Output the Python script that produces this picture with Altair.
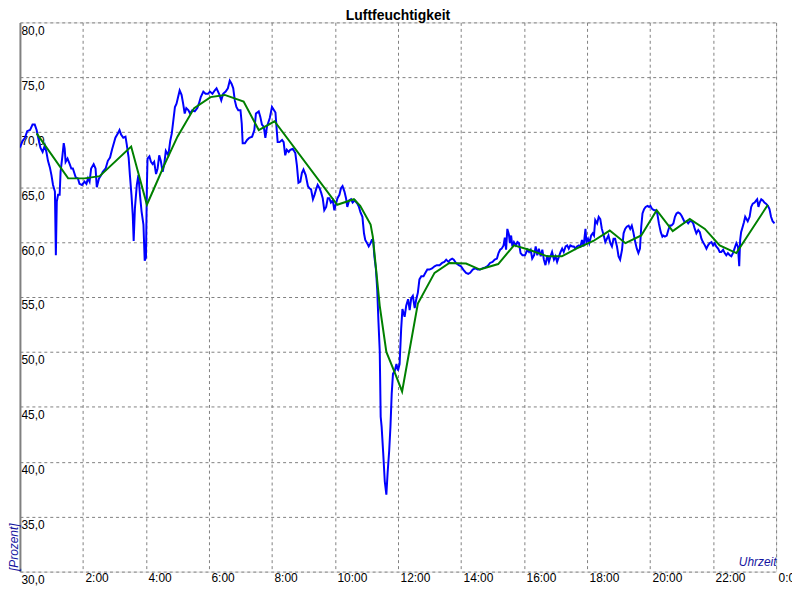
import altair as alt
import pandas as pd

# ---- measured humidity (blue) ----
blue_hours = [
    0.00, 0.08, 0.16, 0.23, 0.32, 0.40, 0.47, 0.53, 0.58, 0.65,
    0.72, 0.79, 0.84, 0.89, 0.95, 1.00, 1.05, 1.11, 1.14, 1.17,
    1.21, 1.26, 1.29, 1.35, 1.39, 1.42, 1.45, 1.51, 1.58, 1.63,
    1.68, 1.77, 1.84, 1.89, 1.97, 2.05, 2.11, 2.16, 2.21, 2.26,
    2.34, 2.40, 2.44, 2.51, 2.58, 2.63, 2.72, 2.79, 2.86, 2.93,
    2.98, 3.03, 3.11, 3.16, 3.21, 3.28, 3.35, 3.39, 3.45, 3.49,
    3.54, 3.58, 3.61, 3.65, 3.71, 3.76, 3.81, 3.86, 3.92, 3.96,
    4.00, 4.03, 4.05, 4.11, 4.16, 4.21, 4.26, 4.32, 4.37, 4.42,
    4.47, 4.53, 4.58, 4.63, 4.71, 4.77, 4.82, 4.87, 4.92, 4.97,
    5.02, 5.07, 5.13, 5.18, 5.23, 5.28, 5.35, 5.40, 5.47, 5.55,
    5.63, 5.68, 5.74, 5.82, 5.89, 5.97, 6.03, 6.11, 6.18, 6.24,
    6.32, 6.39, 6.45, 6.53, 6.60, 6.66, 6.72, 6.77, 6.82, 6.87,
    6.93, 7.00, 7.04, 7.07, 7.14, 7.21, 7.28, 7.37, 7.44, 7.49,
    7.58, 7.63, 7.68, 7.74, 7.79, 7.84, 7.93, 8.00,
    8.11, 8.14, 8.18, 8.24, 8.32, 8.37, 8.42, 8.47, 8.53, 8.58,
    8.66, 8.74, 8.79, 8.84, 8.90, 8.95, 9.00, 9.07, 9.14, 9.19,
    9.24, 9.30, 9.35, 9.40, 9.45, 9.51, 9.56, 9.61, 9.66, 9.72,
    9.77, 9.82, 9.87, 9.93, 9.98, 10.03, 10.08, 10.14, 10.19, 10.24,
    10.30, 10.35, 10.39, 10.45, 10.51, 10.56, 10.63, 10.71, 10.76, 10.81,
    10.87, 10.92, 10.96, 11.02, 11.07, 11.13, 11.17, 11.21, 11.25, 11.30,
    11.34, 11.38, 11.42, 11.45, 11.48, 11.53, 11.58, 11.63, 11.67, 11.72,
    11.76, 11.80, 11.84, 11.90, 11.95, 12.00, 12.05, 12.10, 12.14,
    12.21, 12.26, 12.32, 12.37, 12.42, 12.47, 12.53, 12.58, 12.63, 12.68,
    12.74, 12.81, 12.87, 12.93, 13.00, 13.08, 13.16, 13.23, 13.32, 13.40,
    13.47, 13.53, 13.60, 13.66, 13.72, 13.77, 13.84, 13.93, 14.00, 14.07,
    14.16, 14.23, 14.29, 14.37, 14.45, 14.53, 14.60, 14.68, 14.77, 14.84,
    14.92, 15.00, 15.07, 15.14, 15.19, 15.24, 15.29, 15.35, 15.39, 15.43,
    15.47, 15.52, 15.55, 15.59, 15.63, 15.68, 15.74, 15.79, 15.84, 15.89,
    15.95, 16.03, 16.11, 16.16, 16.21, 16.26,
    16.32, 16.37, 16.42, 16.47, 16.53, 16.58, 16.63, 16.68, 16.74, 16.79,
    16.84, 16.89, 16.95, 17.00, 17.05, 17.11, 17.16, 17.21, 17.26, 17.32,
    17.37, 17.42, 17.47, 17.53, 17.58, 17.63, 17.68, 17.74, 17.79, 17.84,
    17.89, 17.95, 17.98, 18.03, 18.07, 18.13, 18.18, 18.22, 18.26, 18.32,
    18.37, 18.42, 18.47, 18.53, 18.58, 18.63, 18.68, 18.74, 18.79, 18.84,
    18.89, 18.95, 19.00, 19.05, 19.11, 19.16, 19.21, 19.26, 19.32, 19.37,
    19.42, 19.47, 19.53, 19.58, 19.63, 19.68, 19.72, 19.76, 19.81, 19.86,
    19.92, 19.97, 20.01, 20.07, 20.13, 20.18, 20.23, 20.28, 20.34, 20.39,
    20.42, 20.47, 20.53, 20.58, 20.63, 20.68, 20.74, 20.79, 20.84, 20.89,
    20.95, 21.00, 21.05, 21.10, 21.16, 21.21, 21.26, 21.32, 21.37, 21.42,
    21.47, 21.53, 21.58, 21.63, 21.68, 21.74, 21.79, 21.84, 21.89, 21.95,
    22.00, 22.05, 22.10, 22.16, 22.21, 22.26, 22.32, 22.37, 22.42, 22.47,
    22.53, 22.58, 22.63, 22.68, 22.74, 22.79, 22.83, 22.86, 22.89, 22.94,
    22.98, 23.02, 23.06, 23.10, 23.16, 23.21, 23.26, 23.32, 23.37, 23.40,
    23.44, 23.48, 23.53, 23.58, 23.63, 23.68, 23.74, 23.79, 23.84, 23.89,
    23.95,
]
blue_values = [
    68.6, 69.2, 69.5, 70.1, 70.2, 70.7, 70.7, 70.2, 69.5, 68.6,
    68.2, 68.8, 68.2, 67.4, 66.8, 66.1, 65.2, 64.6, 58.8, 63.7,
    64.3, 64.3, 66.4, 67.9, 69.0, 68.5, 67.3, 67.6, 67.1, 66.7,
    66.7, 65.9, 65.8, 65.3, 65.2, 65.5, 65.3, 65.8, 65.5, 66.7,
    67.1, 66.7, 65.0, 65.8, 66.1, 66.4, 66.7, 67.4, 67.7, 68.5,
    69.0, 69.5, 69.9, 70.2, 69.8, 69.5, 69.6, 68.9, 67.7, 66.1,
    64.3, 62.5, 60.1, 63.1, 65.2, 66.1, 64.3, 62.8, 61.6, 58.3,
    58.6, 65.2, 67.6, 67.8, 67.3, 67.1, 67.3, 66.2, 66.7, 67.9,
    67.4, 66.4, 67.1, 68.3, 67.9, 69.2, 69.9, 71.1, 72.3, 72.6,
    73.2, 73.8, 73.4, 72.6, 71.7, 72.2, 72.0, 71.7, 72.0, 71.9,
    72.2, 72.6, 73.2, 73.7, 73.5, 73.5, 73.7, 73.5, 73.8, 74.0,
    73.5, 72.9, 73.5, 73.7, 74.0, 74.7, 74.4, 74.0, 72.9, 72.3,
    72.0, 72.0, 70.8, 69.0, 69.0, 69.3, 69.5, 69.6, 70.2, 71.7,
    71.9, 71.4, 70.7, 70.5, 69.5, 70.5, 71.3, 72.3,
    71.8, 70.6, 69.1, 69.1, 69.3, 69.1, 67.9, 68.4, 68.2, 68.4,
    68.5, 68.1, 67.0, 65.4, 65.5, 66.3, 66.6, 66.1, 65.1, 64.9,
    64.8, 63.9, 64.3, 64.8, 65.2, 64.9, 64.5, 64.0, 62.9, 63.2,
    64.0, 64.0, 63.6, 63.8, 62.9, 63.5, 64.0, 64.3, 64.9, 65.1,
    64.6, 64.0, 63.2, 63.8, 63.9, 63.6, 63.8, 63.5, 63.2, 62.7,
    62.3, 60.8, 60.2, 59.9, 59.6, 59.9, 60.2, 60.2, 58.7, 57.5,
    55.7, 52.7, 50.1, 44.1, 43.2, 40.8, 38.2, 37.0, 39.0, 41.0,
    43.2, 46.2, 48.0, 48.3, 48.9, 48.3, 48.9, 52.1, 53.9,
    53.2, 54.2, 54.8, 53.8, 54.9, 55.1, 54.0, 54.8, 55.4, 56.6,
    56.9, 56.9, 57.2, 57.5, 57.5, 57.6, 57.8, 57.9, 57.9, 58.1,
    58.2, 58.4, 58.2, 58.4, 58.5, 58.4, 58.1, 57.9, 57.8, 57.5,
    57.2, 57.1, 57.2, 57.5, 57.6, 57.5, 57.5, 57.6, 57.7, 57.8,
    58.1, 58.2, 58.4, 58.5, 59.0, 59.3, 59.4, 59.7, 60.4, 59.3,
    61.2, 60.7, 59.9, 60.6, 59.6, 60.0, 59.7, 60.0, 59.9, 59.0,
    58.8, 58.8, 59.3, 59.1, 59.3, 58.5,
    58.8, 59.6, 58.8, 59.4, 58.7, 59.3, 58.4, 57.9, 58.8, 58.2,
    58.7, 59.1, 58.4, 58.7, 58.2, 58.7, 59.1, 59.4, 59.1, 59.6,
    59.7, 59.4, 59.7, 59.6, 59.6, 59.4, 59.6, 59.7, 59.6, 60.2,
    59.6, 61.2, 60.0, 60.3, 59.9, 60.6, 60.8, 60.6, 62.0, 61.7,
    62.3, 62.1, 61.2, 60.6, 60.0, 60.3, 60.6, 59.9, 59.6, 60.3,
    60.3, 59.6, 58.7, 58.4, 59.3, 60.8, 61.2, 61.4, 61.5, 61.2,
    61.5, 60.9, 60.0, 59.4, 59.0, 59.4, 61.4, 62.6, 63.0, 63.2,
    63.3, 63.2, 63.3, 63.0, 62.9, 62.9, 62.6, 61.7, 60.9, 60.5,
    60.6, 60.5, 60.6, 61.1, 61.5, 61.5, 61.7, 62.3, 62.6, 62.7,
    62.6, 62.4, 62.1, 61.8, 61.9, 61.7, 61.9, 61.9, 61.7, 61.2,
    60.8, 61.1, 60.9, 60.3, 60.0, 59.7, 59.4, 59.7, 59.9, 60.0,
    59.7, 59.9, 59.6, 59.4, 59.1, 59.1, 59.3, 59.0, 58.8, 59.0,
    58.8, 58.7, 59.0, 59.4, 59.9, 59.6, 57.8, 60.2, 60.9, 61.4,
    61.8, 62.3, 62.1, 61.9, 62.3, 63.2, 63.5, 63.6, 63.8, 63.9,
    63.2, 63.6, 63.9, 63.8, 63.6, 63.5, 63.3, 63.0, 62.3, 61.9,
    61.7,
]

# ---- smoothed humidity (green) ----
green_hours = [
    0.53, 1.53, 2.05, 2.53, 3.53, 4.03, 4.26, 4.58, 5.00, 5.53,
    6.05, 6.50, 7.10, 7.58, 8.08, 10.07, 10.60, 10.80, 11.13, 11.20,
    11.42, 11.63, 11.90, 12.13, 12.63, 13.16, 13.63, 14.16, 14.60, 15.18,
    15.68, 16.16, 16.74, 17.20, 17.66, 18.20, 18.72, 19.22, 19.72, 20.21,
    20.72, 21.26, 21.74, 22.21, 22.74, 23.74,
]
green_values = [
    69.9, 65.8, 65.8, 66.0, 68.7, 63.4, 64.9, 67.0, 69.6, 72.2,
    73.2, 73.4, 72.8, 70.2, 71.0, 63.4, 63.9, 63.3, 61.6, 60.5,
    54.2, 50.0, 48.1, 46.4, 54.4, 57.2, 58.1, 58.05, 57.5, 58.0,
    59.7, 59.3, 58.7, 58.7, 59.4, 60.1, 61.05, 59.9, 60.6, 62.9,
    61.0, 62.1, 61.2, 59.7, 59.0, 63.4,
]

title_text = ["Luftfeuchtigkeit"]
x_ticks = [2, 4, 6, 8, 10, 12, 14, 16, 18, 20, 22, 24]
y_ticks = [30, 35, 40, 45, 50, 55, 60, 65, 70, 75, 80]

PLOT_W = 760
PLOT_H = 552

LABEL_FONT = "Liberation Sans, Arial"
TEXT_FONT = "Liberation Sans, Arial"
NAVY = "#1414a0"

blue_df = pd.DataFrame({"h": blue_hours, "v": blue_values})
green_df = pd.DataFrame({"h": green_hours, "v": green_values})
title_df = pd.DataFrame({"t": title_text})

x_enc = alt.X(
    "h:Q",
    scale=alt.Scale(domain=[0, 24], nice=False, zero=False),
    axis=alt.Axis(
        values=x_ticks,
        labelExpr="(datum.value % 24) + ':00'",
        labelAlign="left",
        labelBaseline="top",
        labelOffset=2,
        labelPadding=1,
        labelFlush=False,
        labelOverlap=False,
        labelFont=LABEL_FONT,
        labelFontSize=12,
        labelColor="black",
        tickSize=0,
        ticks=False,
        domain=False,
        grid=True,
        gridColor="#808080",
        gridDash=[3, 3],
        gridWidth=1,
        gridOpacity=1,
        title="Uhrzeit",
        titleX=PLOT_W,
        titleY=-6,
        titleAlign="right",
        titleBaseline="alphabetic",
        titleAngle=0,
        titleFont=TEXT_FONT,
        titleFontSize=12,
        titleFontStyle="italic",
        titleFontWeight="normal",
        titleColor=NAVY,
    ),
)

y_enc = alt.Y(
    "v:Q",
    scale=alt.Scale(domain=[30, 80], nice=False, zero=False),
    axis=alt.Axis(
        values=y_ticks,
        labelExpr="replace(format(datum.value, '.1f'), '.', ',')",
        labelAlign="left",
        labelBaseline="top",
        labelPadding=-1,
        labelOffset=3,
        labelFlush=False,
        labelOverlap=False,
        labelFont=LABEL_FONT,
        labelFontSize=12,
        labelColor="black",
        tickSize=0,
        ticks=False,
        domain=True,
        domainColor="#808080",
        domainWidth=2,
        grid=True,
        gridColor="#808080",
        gridDash=[3, 3],
        gridWidth=1,
        gridOpacity=1,
        title="[Prozent]",
        titleX=-2.5,
        titleY=PLOT_H - 1,
        titleAngle=270,
        titleAlign="left",
        titleBaseline="alphabetic",
        titleFont=TEXT_FONT,
        titleFontSize=12,
        titleFontStyle="italic",
        titleFontWeight="normal",
        titleColor=NAVY,
    ),
)

blue_line = alt.Chart(blue_df).mark_line(color="#0000ff", strokeWidth=2, clip=True).encode(
    x=x_enc, y=y_enc
)
green_line = alt.Chart(green_df).mark_line(color="#008000", strokeWidth=2, clip=True).encode(
    x=x_enc, y=y_enc
)
title_mark = alt.Chart(title_df).mark_text(
    font=TEXT_FONT,
    fontSize=14,
    fontWeight="bold",
    color="black",
    align="center",
    baseline="alphabetic",
).encode(
    text="t:N",
    x=alt.value(PLOT_W / 2),
    y=alt.value(-2.5),
)

chart = (
    alt.layer(blue_line, green_line, title_mark)
    .properties(
        width=PLOT_W,
        height=PLOT_H,
        autosize=alt.AutoSizeParams(type="none"),
        padding={"left": 12, "top": 13, "right": 16, "bottom": 14},
    )
    .configure_view(strokeWidth=0)
    .configure(background="white")
)

chart.save("out.html", embed_options={"renderer": "svg", "actions": False})
